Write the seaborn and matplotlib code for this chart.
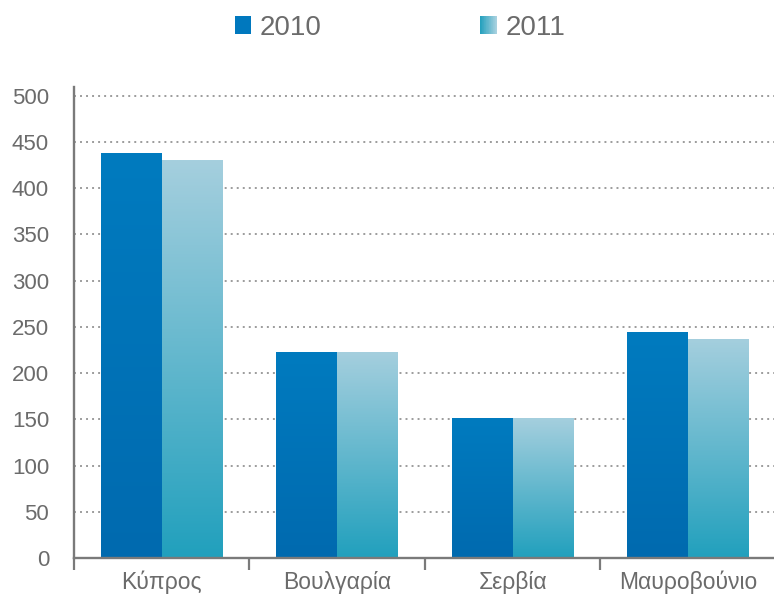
import numpy as np
import pandas as pd
import matplotlib
matplotlib.use('Agg')
import matplotlib.pyplot as plt
import seaborn as sns
from matplotlib.colors import LinearSegmentedColormap, to_rgb
from matplotlib.patches import Rectangle
from matplotlib.legend_handler import HandlerBase

# ---- data ----
categories = ['Κύπρος', 'Βουλγαρία', 'Σερβία', 'Μαυροβούνιο']
years = ['2010', '2011']
values_2010 = [438, 223, 151, 245]
values_2011 = [430, 223, 151, 237]
yticks = [0, 50, 100, 150, 200, 250, 300, 350, 400, 450, 500]

df = pd.DataFrame({
    'country': categories * 2,
    'year': [years[0]] * len(categories) + [years[1]] * len(categories),
    'value': values_2010 + values_2011,
})

# gradient colours (bottom, top) for each year
grad_colors = {
    '2010': ('#006AAF', '#007BBF'),
    '2011': ('#21A0BD', '#A5CFDE'),
}
text_color = '#6b6b6b'
axis_color = '#7a7a7a'

sns.set_theme(style='white')
plt.rcParams['font.family'] = ['Liberation Sans', 'DejaVu Sans']

fig = plt.figure(figsize=(7.74, 5.95), dpi=100)
ax = fig.add_axes([74 / 774, 37 / 595, 700 / 774, 471 / 595])

sns.barplot(data=df, x='country', y='value', hue='year', order=categories,
            hue_order=years, palette=[grad_colors[y][1] for y in years],
            width=0.695, saturation=1, errorbar=None, legend=False,
            linewidth=0, ax=ax)

# per-bar vertical gradients
grad = np.linspace(0, 1, 256).reshape(-1, 1)
for year, cont in zip(years, ax.containers):
    cmap = LinearSegmentedColormap.from_list('g' + year, list(grad_colors[year]))
    for patch in cont.patches:
        x0 = patch.get_x()
        w = patch.get_width()
        h = patch.get_height()
        im = ax.imshow(grad, extent=[x0, x0 + w, 0, h], origin='lower',
                       aspect='auto', cmap=cmap, zorder=patch.get_zorder() + 0.1,
                       interpolation='bilinear')
        im.set_clip_path(patch)

ax.set_xlim(-0.5, 3.49)
ax.set_ylim(0, 509.5)
ax.set_yticks(yticks)
ax.set_xticks(range(len(categories)))
ax.set_xticklabels(categories)
ax.set_xticks([-0.5, 0.5, 1.5, 2.5], minor=True)
ax.set_xlabel('')
ax.set_ylabel('')

ax.yaxis.grid(True, linestyle=(0, (1, 2.1)), color='#9c9c9c', linewidth=1.4)
ax.xaxis.grid(False)
ax.set_axisbelow(True)

for s in ['top', 'right']:
    ax.spines[s].set_visible(False)
for s in ['left', 'bottom']:
    ax.spines[s].set_color(axis_color)
    ax.spines[s].set_linewidth(1.7)

ax.tick_params(axis='y', length=0, pad=18, labelsize=16, labelcolor=text_color)
ax.tick_params(axis='x', which='major', length=0, pad=9, labelsize=16.5,
               labelcolor=text_color)
ax.tick_params(axis='x', which='minor', length=8.5, width=1.6, color=axis_color,
               direction='out', bottom=True)


# legend with a horizontal gradient swatch for 2011
class HandlerGradient(HandlerBase):
    def __init__(self, c_left, c_right, n=24):
        super().__init__()
        self.c_left = np.array(to_rgb(c_left))
        self.c_right = np.array(to_rgb(c_right))
        self.n = n

    def create_artists(self, legend, orig_handle, xdescent, ydescent, width,
                       height, fontsize, trans):
        arts = []
        sw = width / self.n
        for i in range(self.n):
            t = i / (self.n - 1)
            c = (1 - t) * self.c_left + t * self.c_right
            r = Rectangle((-xdescent + i * sw, -ydescent), sw * 1.05, height,
                          facecolor=c, edgecolor='none', transform=trans)
            arts.append(r)
        return arts


h2010 = Rectangle((0, 0), 1, 1, facecolor='#0078BE', edgecolor='none')
h2011 = Rectangle((0, 0), 1, 1, facecolor='#7FBFD4', edgecolor='none')
leg = fig.legend([h2010, h2011], years, loc='center', ncol=2,
                 bbox_to_anchor=(0.517, 0.953), frameon=False, fontsize=20,
                 handlelength=0.59, handleheight=0.59, handletextpad=0.33,
                 columnspacing=5.7,
                 handler_map={h2011: HandlerGradient('#26A1BE', '#A8D1DF')})
for t in leg.get_texts():
    t.set_color(text_color)

fig.savefig('out.png', dpi=100)
